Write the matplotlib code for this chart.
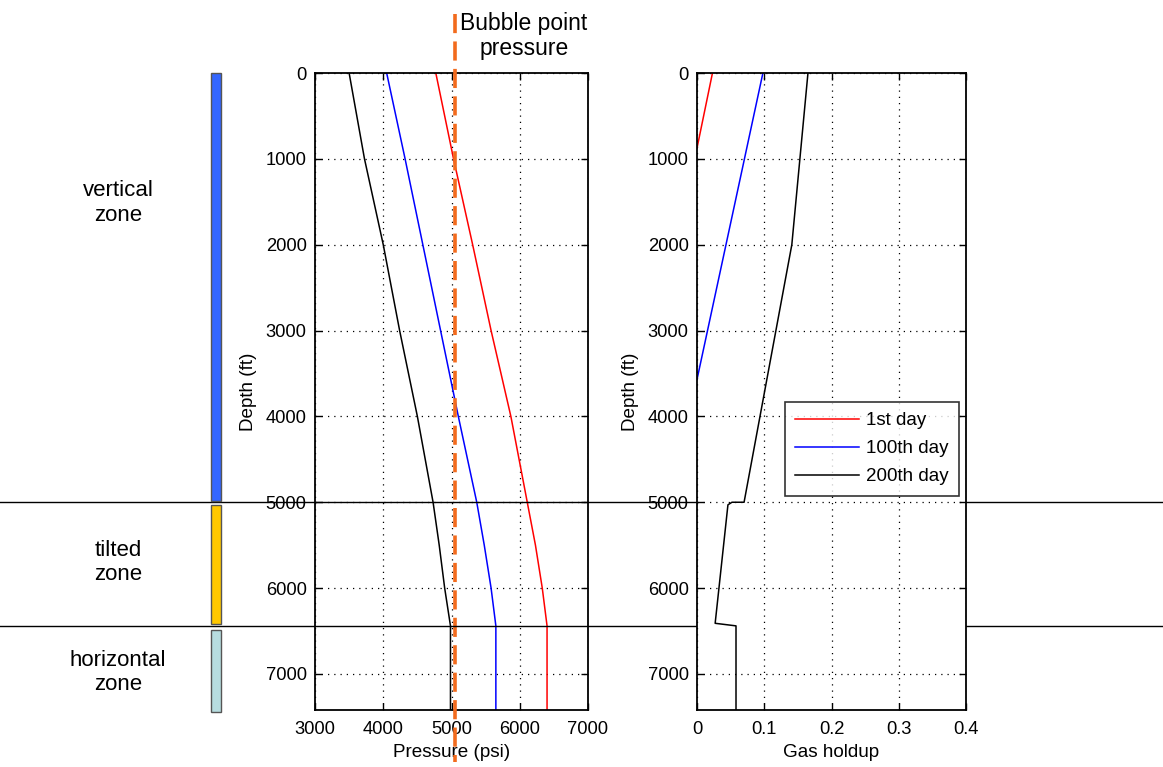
import matplotlib
matplotlib.use("Agg")
import matplotlib.pyplot as plt
import matplotlib.transforms as mtransforms
from matplotlib.patches import Rectangle

plt.rcParams['font.family'] = ['Liberation Sans', 'DejaVu Sans']

# ---- data ----
depth_p = [0, 1000, 2000, 3000, 4000, 5000, 5500, 6000, 6440, 7420]
p_day1 = [4770, 5030, 5310, 5580, 5870, 6110, 6230, 6330, 6400, 6400]
p_day100 = [4050, 4320, 4580, 4840, 5100, 5370, 5480, 5580, 5650, 5650]
p_day200 = [3500, 3725, 4000, 4240, 4500, 4730, 4820, 4900, 4985, 4985]

depth_h1 = [0, 875]
h_day1 = [0.023, 0.0]
depth_h100 = [0, 3570]
h_day100 = [0.098, 0.0]
depth_h200 = [0, 2000, 5000, 5000, 5030, 6410, 6440, 7420]
h_day200 = [0.165, 0.141, 0.070, 0.052, 0.046, 0.027, 0.058, 0.058]

bubble_point = 5050
zone_bounds = [5000, 6440]
zones = [("vertical\nzone", 0, 4980, 1515, "#3366FF"),
         ("tilted\nzone", 5030, 6420, 5700, "#FFC800"),
         ("horizontal\nzone", 6490, 7440, 6980, "#B7DDE0")]
series_labels = ["1st day", "100th day", "200th day"]
series_colors = ["#FF0000", "#0000FF", "#000000"]
p_ticks = [3000, 4000, 5000, 6000, 7000]
h_ticks = [0, 0.1, 0.2, 0.3, 0.4]
h_ticklabels = ["0", "0.1", "0.2", "0.3", "0.4"]
d_ticks = [0, 1000, 2000, 3000, 4000, 5000, 6000, 7000]
d_max = 7420

W, H = 1163, 767
fig = plt.figure(figsize=(W / 100, H / 100), dpi=100)
fig.patch.set_facecolor("white")

ax1 = fig.add_axes([315 / W, 1 - 710 / H, 273 / W, 637 / H])
ax2 = fig.add_axes([697 / W, 1 - 710 / H, 269 / W, 637 / H])

tfs = 13.2
lfs = 13.6
for ax in (ax1, ax2):
    ax.set_ylim(d_max, 0)
    ax.set_yticks(d_ticks)
    ax.grid(True, linestyle=(0, (1, 4)), color="black", linewidth=0.9)
    ax.tick_params(direction="in", length=5, width=1, top=True, right=True,
                   labelsize=tfs, colors="black")
    ax.tick_params(axis="x", pad=8)
    ax.tick_params(axis="y", pad=6)
    for s in ax.spines.values():
        s.set_linewidth(1.3)
    ax.set_ylabel("Depth (ft)", fontsize=lfs, labelpad=6)

ax1.set_xlim(3000, 7000)
ax1.set_xticks(p_ticks)
ax1.set_xlabel("Pressure (psi)", fontsize=lfs, labelpad=4)
for vals, c in zip([p_day1, p_day100, p_day200], series_colors):
    ax1.plot(vals, depth_p, color=c, linewidth=1.1)

ax2.set_xlim(0, 0.4)
ax2.set_xticks(h_ticks)
ax2.set_xticklabels(h_ticklabels)
ax2.set_xlabel("Gas holdup", fontsize=lfs, labelpad=4)
lines = []
for (dd, vv), c, lab in zip([(depth_h1, h_day1), (depth_h100, h_day100), (depth_h200, h_day200)],
                             series_colors, series_labels):
    ln, = ax2.plot(vv, dd, color=c, linewidth=1.1, label=lab)
    lines.append(ln)
leg = ax2.legend(handles=lines, loc="upper left", bbox_to_anchor=(0.327, 0.4835),
                 borderaxespad=0, fontsize=13.5, handlelength=3.4, handletextpad=0.35,
                 frameon=True, fancybox=False, edgecolor="black", borderpad=0.55,
                 labelspacing=0.58)
leg.get_frame().set_linewidth(1.2)

# bubble point dashed line across figure height
bt = mtransforms.blended_transform_factory(ax1.transData, fig.transFigure)
ax1.plot([bubble_point, bubble_point], [1 - 14 / H, 1 - 762 / H], transform=bt,
         color="#F26B1D", linewidth=2.6, dashes=(5.3, 2.3), clip_on=False, zorder=5)
fig.text(524 / W, 1 - 36 / H, "Bubble point\npressure", ha="center", va="center",
         fontsize=16.5, linespacing=1.15)

# zone boundaries across whole figure
zt = mtransforms.blended_transform_factory(fig.transFigure, ax1.transData)
for zb in zone_bounds:
    ax1.plot([0, 1], [zb, zb], transform=zt, color="black", linewidth=1.0,
             clip_on=False, zorder=6)

# zone colour bars and labels
for label, d0, d1, dc, col in zones:
    r = Rectangle((211 / W, d0), 10 / W, d1 - d0, transform=zt, facecolor=col,
                  edgecolor="#555555", linewidth=1.0, clip_on=False)
    fig.add_artist(r)
    ax1.text(118 / W, dc, label, transform=zt, ha="center", va="center",
             fontsize=16, linespacing=1.2, clip_on=False)

fig.savefig("out.png", dpi=100, facecolor="white")
